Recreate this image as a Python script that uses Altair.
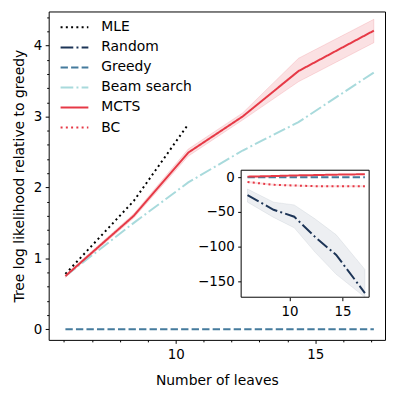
import altair as alt
import pandas as pd

# ---- data ----
leaves = [6.05, 8.5, 10.45, 12.4, 14.4, 17.1]
mle_leaves = [6.05, 8.5, 10.45]
mle = [0.78, 1.81, 2.89]
greedy = [0.0, 0.0, 0.0, 0.0, 0.0, 0.0]
beam = [0.75, 1.50, 2.07, 2.52, 2.92, 3.62]
mcts = [0.75, 1.60, 2.49, 3.00, 3.64, 4.21]
mcts_lo = [0.73, 1.57, 2.44, 2.95, 3.49, 4.04]
mcts_hi = [0.77, 1.63, 2.54, 3.05, 3.82, 4.37]
random_ = [-26, -47, -57, -86, -112, -167]
random_lo = [-36, -58, -73, -108, -140, -200]
random_hi = [-17, -36, -40, -60, -83, -133]
bc = [-7, -11, -12, -13, -13, -13]
bc_lo = [-8.5, -12.5, -13.5, -14.5, -14.5, -14.5]
bc_hi = [-5.5, -9.5, -10.5, -11.5, -11.5, -11.5]

methods = ["MLE", "Random", "Greedy", "Beam search", "MCTS", "BC"]
colors = ["#000000", "#1d3557", "#457b9d", "#a8dadc", "#e63946", "#e63946"]
dashes = [[2, 3.3], [12.8, 3.2, 2, 3.2], [7.4, 3.2], [12.8, 3.2, 2, 3.2], [1, 0], [2, 3.3]]

x_main_ticks = list(range(6, 18))
y_main_ticks = [round(0.2 * i, 1) for i in range(0, 23)]
inset_y_ticks = [0, -50, -100, -150]
inset_x_ticks = [10, 15]

def long(name, xs, ys):
    return pd.DataFrame({"x": xs, "y": ys, "method": name})

main_df = pd.concat([
    long("MLE", mle_leaves, mle),
    long("Greedy", leaves, greedy),
    long("Beam search", leaves, beam),
    long("MCTS", leaves, mcts),
])
inset_df = pd.concat([
    long("Random", leaves, random_),
    long("Greedy", leaves, greedy),
    long("BC", leaves, bc),
    long("MCTS", leaves, mcts),
])
mcts_band = pd.DataFrame({"x": leaves, "lo": mcts_lo, "hi": mcts_hi})
random_band = pd.DataFrame({"x": leaves, "lo": random_lo, "hi": random_hi})
bc_band = pd.DataFrame({"x": leaves, "lo": bc_lo, "hi": bc_hi})

FONT = "DejaVu Sans"
W, H = 339, 331
INSET_X = [194, 323]
INSET_Y = [288, 160]

x_main = alt.X("x:Q",
    scale=alt.Scale(domain=[5.45, 17.5], nice=False, zero=False),
    axis=alt.Axis(values=x_main_ticks, title="Number of leaves",
                  labelExpr="datum.value % 5 === 0 ? format(datum.value, 'd') : ''",
                  tickSize={"condition": {"test": "datum.value % 5 === 0", "value": 3.5}, "value": 2},
                  labelOverlap=False, labelFlush=False, titlePadding=13, labelPadding=4))

def y_main(field="y"):
    return alt.Y(f"{field}:Q",
        scale=alt.Scale(domain=[-0.15, 4.48], nice=False, zero=False),
        axis=alt.Axis(values=y_main_ticks, title="Tree log likelihood relative to greedy",
                      labelExpr="abs(datum.value % 1) < 1e-6 ? format(datum.value, 'd') : ''",
                      tickSize={"condition": {"test": "abs(datum.value % 1) < 1e-6", "value": 3.5}, "value": 2},
                      labelOverlap=False, labelFlush=False, titlePadding=7))

inset_x_axis = alt.Axis(values=inset_x_ticks, title="", orient="bottom", offset=-(H - INSET_Y[0]),
                        tickSize=3.5, labelOverlap=False, labelFlush=False, format="d")
inset_y_axis = alt.Axis(values=inset_y_ticks, title="", orient="left", offset=-INSET_X[0],
                        tickSize=3.5, labelOverlap=False, labelFlush=False, format="d")
inset_x_scale = alt.Scale(domain=[5.45, 17.5], nice=False, zero=False, range=INSET_X)
inset_y_scale = alt.Scale(domain=[-173, 10], nice=False, zero=False, range=INSET_Y, clamp=True)

x_inset = alt.X("x:Q", scale=inset_x_scale, axis=inset_x_axis)

def y_inset(field="y"):
    return alt.Y(f"{field}:Q", scale=inset_y_scale, axis=inset_y_axis)

legend = alt.Legend(title=None, orient="none", legendX=11, legendY=9,
                    symbolType="stroke", symbolSize=784, symbolStrokeWidth=2,
                    labelFontSize=14, labelFont=FONT, labelOffset=12,
                    clipHeight=14, rowPadding=6.2, labelColor="black")
color = alt.Color("method:N", scale=alt.Scale(domain=methods, range=colors), legend=legend)
dash = alt.StrokeDash("method:N", scale=alt.Scale(domain=methods, range=dashes), legend=legend)

main_band = alt.Chart(mcts_band).mark_area(
    color="#e63946", fillOpacity=0.15, stroke="#e63946", strokeOpacity=0.15, strokeWidth=1
).encode(x=x_main, y=y_main("lo"), y2="hi:Q")
main_lines = alt.Chart(main_df).mark_line(strokeWidth=2).encode(
    x=x_main, y=y_main(), color=color, strokeDash=dash,
    order=alt.Order("x:Q"))
main = alt.layer(main_band, main_lines)

frame_df = pd.DataFrame({"a": [0]})
inset_frame = alt.Chart(frame_df).mark_rect(fill="white", stroke="black", strokeWidth=1).encode(
    x=alt.datum(5.45, scale=inset_x_scale, axis=inset_x_axis),
    x2=alt.datum(17.5),
    y=alt.datum(10, scale=inset_y_scale, axis=inset_y_axis),
    y2=alt.datum(-173))
inset_rband = alt.Chart(random_band).mark_area(
    color="#1d3557", fillOpacity=0.08, stroke="#1d3557", strokeOpacity=0.08, strokeWidth=1
).encode(x=x_inset, y=y_inset("lo"), y2="hi:Q")
inset_bband = alt.Chart(bc_band).mark_area(
    color="#e63946", fillOpacity=0.15, strokeWidth=0
).encode(x=x_inset, y=y_inset("lo"), y2="hi:Q")
inset_lines = alt.Chart(inset_df).mark_line(strokeWidth=2).encode(
    x=x_inset, y=y_inset(), color=color, strokeDash=dash, order=alt.Order("x:Q"))
inset = alt.layer(inset_frame, inset_rband, inset_bband, inset_lines)

chart = alt.layer(main, inset).resolve_scale(x="independent", y="independent").properties(
    width=W, height=H, padding={"left": 4, "top": 0, "right": 2, "bottom": 1}
).configure_view(stroke="black", strokeWidth=1).configure_axis(
    grid=False, domain=False, labelFont=FONT, titleFont=FONT, labelFontSize=13.5,
    titleFontSize=14, titleFontWeight="normal", labelColor="black", titleColor="black",
    tickColor="black", tickWidth=1, labelPadding=3.5
)

chart.save("out.html", embed_options={"renderer": "svg", "actions": False})
